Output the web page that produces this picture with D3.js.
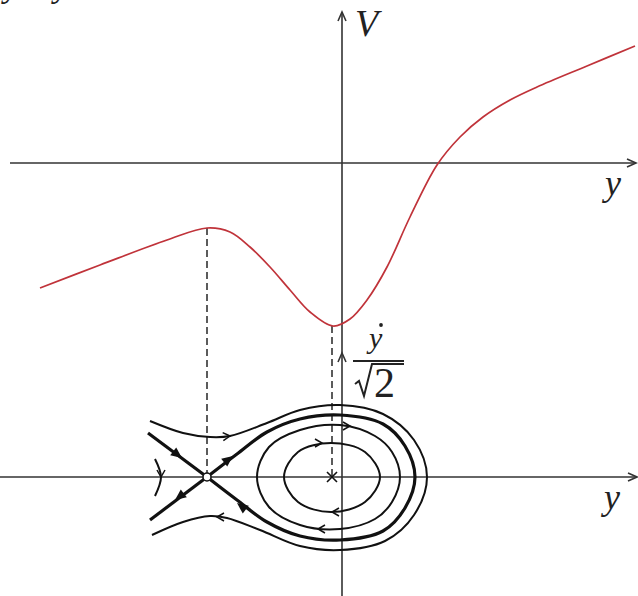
<!DOCTYPE html>
<html>
<head>
<meta charset="utf-8">
<script src="https://cdn.jsdelivr.net/npm/d3@7"></script>
<style>
  body { margin: 0; background: #fff; }
  text { font-family: "Liberation Serif", "DejaVu Serif", serif; font-style: italic; fill: #222; }
</style>
</head>
<body>
<div id="chart-area"></div>
<script>
const WIDTH = 638
const HEIGHT = 596

// potential curve V(y), units of 10px
const potX = [-30.2, -24.2, -17.5, -13.5, -11.2, -9.2, -7.2, -5.2, -3.2, -0.9, 0.8, 2.5, 4.5, 6.8, 9.5, 11.8, 14.1, 16.8, 19.5, 24.5, 29.3]
const potV = [-12.5, -10.2, -7.7, -6.5, -6.9, -8.4, -10.4, -12.7, -14.9, -16.3, -15.6, -13.7, -10.4, -5.4, -0.2, 2.6, 4.6, 6.3, 7.6, 9.7, 11.7]

// fixed points
const saddleX = -13.5
const saddleV = -6.5
const centerX = -1.0
const centerV = -16.3

// phase portrait orbits (y, ydot/sqrt2)
const loopX = [-13.5, -10.5, -7.5, -4.2, -0.2, 4.1, 6.3, 7.3, 6.3, 4.1, -0.2, -4.2, -7.5, -10.5, -13.5]
const loopP = [0, 2.3, 4.5, 5.8, 6.2, 5.3, 3.1, 0, -3.1, -5.4, -6.3, -5.9, -4.5, -2.3, 0]
const stableX = [-19.4, -13.5]
const stableP = [4.4, 0]
const unstableX = [-13.5, -19.2]
const unstableP = [0, -4.3]
const outerX = [-19.2, -15.9, -13.2, -11.2, -7.5, -4.2, -0.2, 4.1, 7.2, 8.5, 7.2, 4.3, -0.2, -4.2, -8.2, -11.5, -13.2, -15.9, -19.0]
const outerP = [5.6, 4.4, 4.0, 4.1, 5.4, 6.7, 7.2, 6.3, 3.7, 0, -3.8, -6.4, -7.3, -6.9, -5.3, -4.1, -3.9, -4.5, -5.8]
const midX = [-8.5, -7.3, -4.2, -0.2, 3.3, 5.0, 5.8, 5.0, 3.3, -0.2, -4.2, -7.3]
const midP = [0, 3.0, 4.7, 5.2, 4.1, 2.5, 0, -2.5, -4.2, -5.2, -4.8, -3.0]
const innerX = [-5.8, -4.4, -1.1, 2.3, 3.8, 2.3, -1.1, -4.4]
const innerP = [0, 2.5, 3.4, 2.5, 0, -2.5, -3.5, -2.5]
const arcX = [-18.7, -18.1, -18.7]
const arcP = [1.8, 0, -1.9]

// flow arrows: position, direction (deg, screen), thick or thin line
const arrowX = [-11.2, -12.5, 0.8, -2.4, -2.0, -1.0, -16.0, -16.7, -10.9, -10.5, -18.1]
const arrowP = [4.1, -4.0, 5.1, -5.2, 3.4, -3.5, 1.9, -2.3, 2.1, -2.6, 0]
const arrowAngle = [-5, 180, 0, 180, 0, 180, 37, 143, -37, -143, 90]
const arrowThick = [false, false, false, false, false, false, true, true, true, true, false]

const svg = d3.select("#chart-area")
  .append("svg")
    .attr("width", WIDTH)
    .attr("height", HEIGHT)

// scales
const x = d3.scaleLinear().domain([-34.2, 29.6]).range([0, 638])
const vy = d3.scaleLinear().domain([0, 10]).range([163, 63])
const py = d3.scaleLinear().domain([0, 10]).range([477, 377])

const AXIS = "#333"

// axes lines
function axisArrow(px, pyy, angle) {
  svg.append("path")
    .attr("d", "M-9,-4 L0,0 L-9,4")
    .attr("transform", `translate(${px},${pyy}) rotate(${angle})`)
    .attr("fill", "none")
    .attr("stroke", AXIS)
    .attr("stroke-width", 1.6)
}

svg.append("line")
  .attr("x1", x(-33.2)).attr("x2", x(29.4))
  .attr("y1", vy(0)).attr("y2", vy(0))
  .attr("stroke", AXIS).attr("stroke-width", 1.6)
axisArrow(x(29.4), vy(0), 0)

svg.append("line")
  .attr("x1", x(-34.2)).attr("x2", x(29.5))
  .attr("y1", py(0)).attr("y2", py(0))
  .attr("stroke", AXIS).attr("stroke-width", 1.6)
axisArrow(x(29.5), py(0), 0)

svg.append("line")
  .attr("x1", x(0)).attr("x2", x(0))
  .attr("y1", vy(15.1)).attr("y2", HEIGHT)
  .attr("stroke", AXIS).attr("stroke-width", 1.6)
axisArrow(x(0), vy(15.1), -90)
axisArrow(x(0), py(12.4), -90)

// dashed guides from extrema down to the fixed points
const guides = [[saddleX, saddleV], [centerX, centerV]]
svg.selectAll(".guide")
  .data(guides)
  .enter().append("line")
    .attr("class", "guide")
    .attr("x1", d => x(d[0])).attr("x2", d => x(d[0]))
    .attr("y1", d => vy(d[1])).attr("y2", py(0))
    .attr("stroke", "#333")
    .attr("stroke-width", 1.6)
    .attr("stroke-dasharray", "7,4")

// potential curve
const potLine = d3.line()
  .x(d => x(d[0]))
  .y(d => vy(d[1]))
  .curve(d3.curveCatmullRom.alpha(0.5))

svg.append("path")
  .attr("d", potLine(d3.zip(potX, potV)))
  .attr("fill", "none")
  .attr("stroke", "#c0333a")
  .attr("stroke-width", 1.7)

// phase orbits
const openLine = d3.line()
  .x(d => x(d[0]))
  .y(d => py(d[1]))
  .curve(d3.curveCatmullRom.alpha(0.5))
const closedLine = d3.line()
  .x(d => x(d[0]))
  .y(d => py(d[1]))
  .curve(d3.curveCatmullRomClosed.alpha(0.5))
const straight = d3.line()
  .x(d => x(d[0]))
  .y(d => py(d[1]))

function orbit(gen, xs, ps, w) {
  svg.append("path")
    .attr("d", gen(d3.zip(xs, ps)))
    .attr("fill", "none")
    .attr("stroke", "#111")
    .attr("stroke-width", w)
}

orbit(closedLine, innerX, innerP, 2)
orbit(closedLine, midX, midP, 2)
orbit(openLine, outerX, outerP, 2)
orbit(openLine, arcX, arcP, 2)
orbit(openLine, loopX, loopP, 3.2)
orbit(straight, stableX, stableP, 3.2)
orbit(straight, unstableX, unstableP, 3.2)

// flow arrows
d3.range(arrowX.length).forEach(i => {
  const t = `translate(${x(arrowX[i])},${py(arrowP[i])}) rotate(${arrowAngle[i]})`
  if (arrowThick[i]) {
    svg.append("path")
      .attr("d", "M-11,-5 L0,0 L-11,5 Z")
      .attr("transform", t)
      .attr("fill", "#111")
  } else {
    svg.append("path")
      .attr("d", "M-7,-4 L0,0 L-7,4")
      .attr("transform", t)
      .attr("fill", "none")
      .attr("stroke", "#111")
      .attr("stroke-width", 1.5)
  }
})

// saddle and centre
svg.append("circle")
  .attr("cx", x(saddleX)).attr("cy", py(0)).attr("r", 4)
  .attr("fill", "#fff").attr("stroke", "#111").attr("stroke-width", 1.5)
svg.append("path")
  .attr("d", "M-5,-5 L5,5 M-5,5 L5,-5")
  .attr("transform", `translate(${x(centerX)},${py(0)})`)
  .attr("stroke", "#111").attr("stroke-width", 1.6)

// labels
svg.append("text").attr("x", 355).attr("y", 36).attr("font-size", 38).text("V")
svg.append("text").attr("x", 605).attr("y", 195).attr("font-size", 36).text("y")
svg.append("text").attr("x", 604).attr("y", 509).attr("font-size", 36).text("y")

// ydot / sqrt(2) label on the phase axis
svg.append("text").attr("x", 369).attr("y", 348).attr("font-size", 30).text("y")
svg.append("circle").attr("cx", 381).attr("cy", 325).attr("r", 1.9).attr("fill", "#222")
svg.append("line")
  .attr("x1", 353).attr("x2", 404).attr("y1", 361).attr("y2", 361)
  .attr("stroke", "#222").attr("stroke-width", 2)
svg.append("path")
  .attr("d", "M355,384 L359,381 L364,396 L372,364 L404,364")
  .attr("fill", "none")
  .attr("stroke", "#222")
  .attr("stroke-width", 2)
  .attr("stroke-linejoin", "miter")
svg.append("text").attr("x", 374).attr("y", 397).attr("font-size", 42)
  .style("font-style", "normal").text("2")

// cut-off text at the top edge
svg.append("text").attr("x", 4).attr("y", -3).attr("font-size", 34).text("y")
svg.append("text").attr("x", 54).attr("y", -3).attr("font-size", 34).text("y")
</script>
</body>
</html>
